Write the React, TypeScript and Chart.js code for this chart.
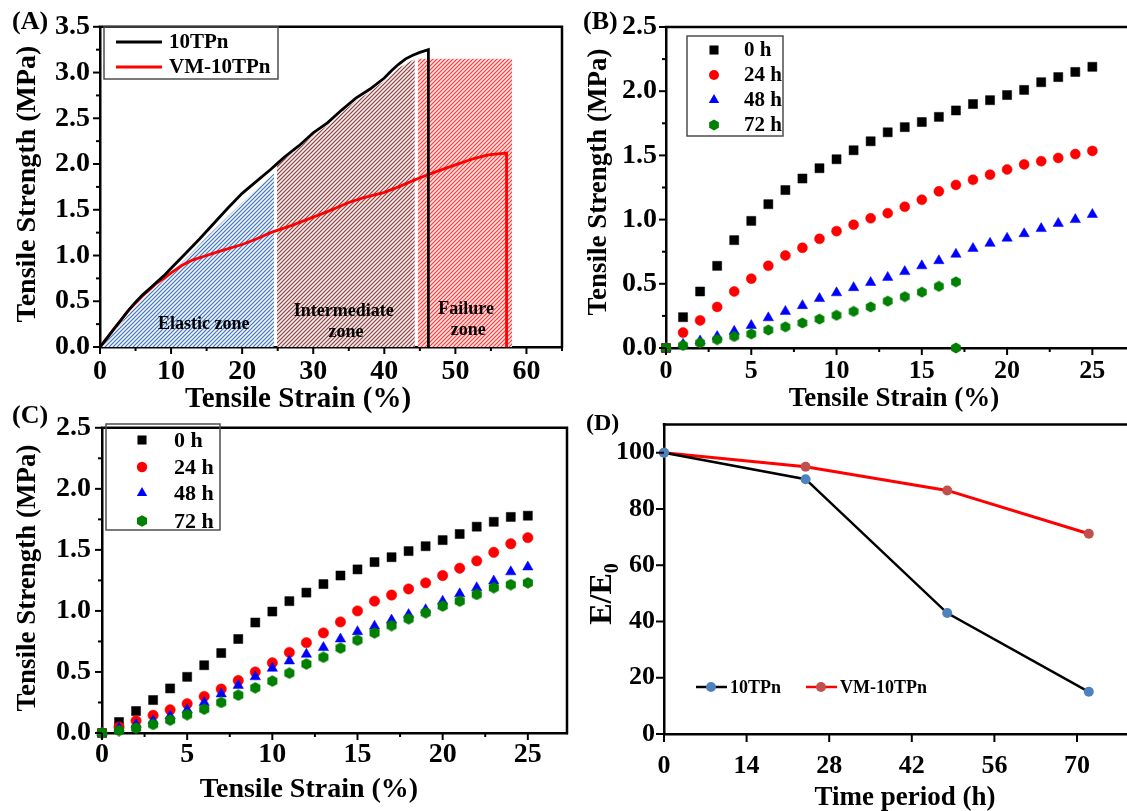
import React, { useEffect, useRef } from 'react';
import { Chart, registerables } from 'chart.js';

Chart.register(...registerables);

const SERIF = '"Liberation Serif", "Times New Roman", Times, serif';
const bold = (px: number) => `bold ${px}px ${SERIF}`;

// ---------------- Panel A : stress-strain curves ----------------
const strainA_10TPn = [0, 1, 2, 3, 4, 5, 6, 7, 8, 9, 10, 12, 14, 16, 18, 20, 22, 24, 25, 26, 28, 30, 32, 34, 36, 38, 40, 41, 42, 43, 44, 45, 46.2, 46.2];
const stressA_10TPn = [0, 0.1, 0.2, 0.3, 0.4, 0.49, 0.57, 0.64, 0.71, 0.78, 0.86, 1.02, 1.18, 1.35, 1.52, 1.68, 1.81, 1.94, 2.01, 2.08, 2.2, 2.34, 2.45, 2.59, 2.72, 2.82, 2.94, 3.02, 3.09, 3.15, 3.19, 3.22, 3.25, 0];
const strainA_VM = [0, 1, 2, 3, 4, 5, 6, 7, 8, 9, 10, 11.5, 13, 15, 17, 20, 22, 24, 27, 30, 32, 35, 37, 40, 42, 45, 47.4, 50, 52.6, 54.6, 57.2, 57.2];
const stressA_VM = [0, 0.1, 0.2, 0.3, 0.4, 0.48, 0.56, 0.63, 0.7, 0.75, 0.81, 0.89, 0.95, 1.0, 1.05, 1.12, 1.18, 1.25, 1.33, 1.42, 1.48, 1.58, 1.63, 1.69, 1.75, 1.85, 1.92, 1.99, 2.06, 2.1, 2.12, 0];
const elasticZoneX = [0, 2, 5, 10, 15, 20, 24.5];
const elasticZoneY = [0, 0.17, 0.45, 0.8, 1.2, 1.58, 1.9];
const intermediateZoneX = [24.9, 26, 28, 30, 32, 34, 36, 38, 40, 42, 44.3];
const intermediateZoneY = [1.99, 2.06, 2.18, 2.31, 2.42, 2.56, 2.69, 2.79, 2.91, 3.05, 3.15];
const failureZoneX = [44.7, 58];
const failureZoneY = [3.15, 3.15];
const zoneLabels = [
  { text: 'Elastic zone', x: 14.6, y: 0.195 },
  { text: 'Intermediate', x: 34.3, y: 0.336 },
  { text: 'zone', x: 34.6, y: 0.108 },
  { text: 'Failure', x: 51.5, y: 0.357 },
  { text: 'zone', x: 51.8, y: 0.13 },
];

// ---------------- Panel B ----------------
const strainB = [0, 1, 2, 3, 4, 5, 6, 7, 8, 9, 10, 11, 12, 13, 14, 15, 16, 17, 18, 19, 20, 21, 22, 23, 24, 25];
const b0h = [0, 0.24, 0.44, 0.64, 0.84, 0.99, 1.12, 1.23, 1.32, 1.4, 1.47, 1.54, 1.61, 1.68, 1.72, 1.76, 1.8, 1.85, 1.9, 1.93, 1.97, 2.01, 2.07, 2.11, 2.15, 2.19];
const b24h = [0, 0.12, 0.215, 0.32, 0.44, 0.54, 0.64, 0.72, 0.78, 0.85, 0.91, 0.96, 1.01, 1.05, 1.1, 1.155, 1.22, 1.27, 1.31, 1.35, 1.39, 1.43, 1.455, 1.48, 1.51, 1.535];
const b48h = [0, 0.03, 0.055, 0.09, 0.13, 0.175, 0.235, 0.285, 0.33, 0.385, 0.43, 0.47, 0.51, 0.55, 0.595, 0.64, 0.68, 0.73, 0.775, 0.815, 0.855, 0.89, 0.93, 0.97, 1.0, 1.04];
const strainB72 = [0, 1, 2, 3, 4, 5, 6, 7, 8, 9, 10, 11, 12, 13, 14, 15, 16, 17, 17];
const b72h = [0, 0.02, 0.04, 0.065, 0.09, 0.11, 0.14, 0.165, 0.195, 0.225, 0.255, 0.285, 0.32, 0.365, 0.4, 0.435, 0.48, 0.515, 0];

// ---------------- Panel C ----------------
const strainC = [0, 1, 2, 3, 4, 5, 6, 7, 8, 9, 10, 11, 12, 13, 14, 15, 16, 17, 18, 19, 20, 21, 22, 23, 24, 25];
const c0h = [0, 0.09, 0.18, 0.27, 0.365, 0.46, 0.555, 0.655, 0.77, 0.905, 0.995, 1.08, 1.15, 1.22, 1.29, 1.34, 1.4, 1.44, 1.49, 1.53, 1.58, 1.63, 1.69, 1.73, 1.77, 1.78];
const c24h = [0, 0.05, 0.1, 0.145, 0.19, 0.24, 0.3, 0.36, 0.43, 0.5, 0.575, 0.66, 0.74, 0.82, 0.91, 1.0, 1.08, 1.13, 1.18, 1.23, 1.29, 1.35, 1.41, 1.48, 1.55, 1.6];
const c48h = [0, 0.04, 0.07, 0.1, 0.14, 0.19, 0.25, 0.32, 0.39, 0.46, 0.53, 0.59, 0.645, 0.7, 0.77, 0.83, 0.875, 0.925, 0.97, 1.01, 1.08, 1.14, 1.19, 1.245, 1.32, 1.36];
const c72h = [0, 0.02, 0.04, 0.07, 0.105, 0.15, 0.195, 0.25, 0.31, 0.37, 0.425, 0.49, 0.565, 0.62, 0.695, 0.76, 0.82, 0.88, 0.935, 0.985, 1.04, 1.08, 1.135, 1.19, 1.215, 1.23];

// ---------------- Panel D ----------------
const timeD = [0, 24, 48, 72];
const modulus10TPn = [100, 90.6, 43, 15];
const modulusVM = [100, 95, 86.6, 71.2];

// ---------------- helpers ----------------
const isMult = (v: number, step: number) => Math.abs(v / step - Math.round(v / step)) < 1e-6;
const xy = (xs: number[], ys: number[]) => xs.map((x, i) => ({ x, y: ys[i] }));

function hatch(line: string, bg: string) {
  const c = document.createElement('canvas');
  c.width = 4; c.height = 4;
  const g = c.getContext('2d')!;
  g.fillStyle = bg; g.fillRect(0, 0, 4, 4);
  g.strokeStyle = line; g.lineWidth = 1.15;
  g.beginPath();
  g.moveTo(0, 4); g.lineTo(4, 0);
  g.moveTo(-1, 1); g.lineTo(1, -1);
  g.moveTo(3, 5); g.lineTo(5, 3);
  g.stroke();
  return g.createPattern(c, 'repeat')!;
}

function hexPath(g: CanvasRenderingContext2D, cx: number, cy: number, r: number) {
  g.beginPath();
  for (let i = 0; i < 6; i++) {
    const a = -Math.PI / 2 + (i * Math.PI) / 3;
    const px = cx + r * Math.cos(a), py = cy + r * Math.sin(a);
    if (i === 0) g.moveTo(px, py); else g.lineTo(px, py);
  }
  g.closePath();
}

function hexagon(color: string, r: number) {
  const c = document.createElement('canvas');
  c.width = Math.ceil(2 * r); c.height = Math.ceil(2 * r);
  const g = c.getContext('2d')!;
  g.fillStyle = color;
  hexPath(g, c.width / 2, c.height / 2, r);
  g.fill();
  return c;
}

function drawMarker(ctx: CanvasRenderingContext2D, style: string, x: number, y: number, r: number, color: string) {
  ctx.fillStyle = color;
  if (style === 'rect') {
    const s = r * Math.SQRT1_2;
    ctx.fillRect(x - s, y - s, 2 * s, 2 * s);
  } else if (style === 'circle') {
    ctx.beginPath(); ctx.arc(x, y, r, 0, Math.PI * 2); ctx.fill();
  } else if (style === 'triangle') {
    ctx.beginPath();
    for (let i = 0; i < 3; i++) {
      const a = (i * 2 * Math.PI) / 3;
      const px = x + Math.sin(a) * r, py = y - Math.cos(a) * r;
      if (i === 0) ctx.moveTo(px, py); else ctx.lineTo(px, py);
    }
    ctx.closePath(); ctx.fill();
  } else if (style === 'hex') {
    hexPath(ctx, x, y, r); ctx.fill();
  }
}

type TextItem = { text: string; x: number; y: number; size: number; align?: CanvasTextAlign; rot?: boolean; sub?: string; subSize?: number };
type LegendItem = { label: string; y: number; textX: number; line?: [number, number, string, number]; marker?: { style: string; x: number; color: string; r: number } };
type Legend = { box?: [number, number, number, number]; size: number; items: LegendItem[] };
type TickSpec = { major: number; majorLen: number; minorLen: number };

function makeDecor(cfg: { ox: number; oy: number; xt: TickSpec; yt: TickSpec; texts: TextItem[]; legend: Legend; dataTexts?: { text: string; x: number; y: number }[]; dataSize?: number }) {
  return {
    id: 'decor',
    afterDraw(chart: any) {
      const ctx: CanvasRenderingContext2D = chart.ctx;
      const a = chart.chartArea;
      const xs = chart.scales.x, ys = chart.scales.y;
      ctx.save();
      ctx.strokeStyle = '#000';
      ctx.lineWidth = 2.5;
      ctx.beginPath();
      ctx.moveTo(a.left - 1.25, a.top);
      ctx.lineTo(a.right, a.top);
      ctx.lineTo(a.right, a.bottom + 1.25);
      ctx.stroke();
      ctx.lineWidth = 2;
      for (const t of xs.ticks) {
        const px = xs.getPixelForValue(t.value);
        const len = isMult(t.value, cfg.xt.major) ? cfg.xt.majorLen : cfg.xt.minorLen;
        ctx.beginPath(); ctx.moveTo(px, a.bottom); ctx.lineTo(px, a.bottom + len); ctx.stroke();
      }
      for (const t of ys.ticks) {
        const py = ys.getPixelForValue(t.value);
        const len = isMult(t.value, cfg.yt.major) ? cfg.yt.majorLen : cfg.yt.minorLen;
        ctx.beginPath(); ctx.moveTo(a.left, py); ctx.lineTo(a.left - len, py); ctx.stroke();
      }
      ctx.fillStyle = '#000';
      if (cfg.dataTexts) {
        ctx.font = bold(cfg.dataSize || 18);
        ctx.textAlign = 'center';
        ctx.textBaseline = 'alphabetic';
        for (const d of cfg.dataTexts) {
          ctx.fillText(d.text, xs.getPixelForValue(d.x), ys.getPixelForValue(d.y));
        }
      }
      ctx.translate(-cfg.ox, -cfg.oy);
      for (const t of cfg.texts) {
        ctx.save();
        ctx.translate(t.x, t.y);
        if (t.rot) ctx.rotate(-Math.PI / 2);
        ctx.font = bold(t.size);
        ctx.textBaseline = 'alphabetic';
        ctx.fillStyle = '#000';
        if (t.sub) {
          const w1 = ctx.measureText(t.text).width;
          ctx.font = bold(t.subSize || 18);
          const w2 = ctx.measureText(t.sub).width;
          const start = -(w1 + w2) / 2;
          ctx.textAlign = 'left';
          ctx.font = bold(t.size);
          ctx.fillText(t.text, start, 0);
          ctx.font = bold(t.subSize || 18);
          ctx.fillText(t.sub, start + w1, t.size * 0.22);
        } else {
          ctx.textAlign = t.align || 'center';
          ctx.fillText(t.text, 0, 0);
        }
        ctx.restore();
      }
      const lg = cfg.legend;
      if (lg.box) {
        ctx.strokeStyle = '#4d4d4d';
        ctx.lineWidth = 1.5;
        ctx.strokeRect(lg.box[0], lg.box[1], lg.box[2], lg.box[3]);
      }
      for (const it of lg.items) {
        if (it.line) {
          ctx.strokeStyle = it.line[2];
          ctx.lineWidth = it.line[3];
          ctx.beginPath(); ctx.moveTo(it.line[0], it.y); ctx.lineTo(it.line[1], it.y); ctx.stroke();
        }
        if (it.marker) drawMarker(ctx, it.marker.style, it.marker.x, it.y, it.marker.r, it.marker.color);
        ctx.fillStyle = '#000';
        ctx.font = bold(lg.size);
        ctx.textAlign = 'left';
        ctx.textBaseline = 'middle';
        ctx.fillText(it.label, it.textX, it.y + 1);
      }
      ctx.restore();
    },
  };
}

function axis(p: { min: number; max: number; step: number; major: number; font: number; pad: number; size: number; horiz: boolean; decimals: number }) {
  return {
    type: 'linear',
    min: p.min,
    max: p.max,
    grid: { display: false, drawTicks: false },
    border: { display: true, color: '#000', width: 2.5 },
    ticks: {
      stepSize: p.step,
      autoSkip: false,
      maxRotation: 0,
      minRotation: 0,
      includeBounds: false,
      color: '#000',
      padding: p.pad,
      font: { family: SERIF, size: p.font, weight: 'bold' },
      callback: (v: any) => (isMult(Number(v), p.major) ? Number(v).toFixed(p.decimals) : ''),
    },
    afterFit: (s: any) => {
      if (p.horiz) s.height = p.size; else s.width = p.size;
    },
  };
}

function pointSet(label: string, xs: number[], ys: number[], style: any, r: number, color: string, order: number) {
  return {
    label,
    data: xy(xs, ys),
    showLine: false,
    pointStyle: style,
    pointRadius: r,
    pointHoverRadius: r,
    pointBackgroundColor: color,
    pointBorderColor: color,
    pointBorderWidth: style === 'rect' || style === 'circle' || style === 'triangle' ? 0.5 : 0,
    clip: false,
    order,
  };
}

function baseOptions(padding: any, x: any, y: any) {
  return {
    responsive: false,
    animation: false,
    events: [],
    layout: { padding },
    plugins: { legend: { display: false }, tooltip: { enabled: false } },
    elements: { line: { tension: 0 } },
    scales: { x, y },
  };
}

const PANELS = {
  A: { left: 0, top: 0, width: 570, height: 415 },
  B: { left: 570, top: 0, width: 580, height: 415 },
  C: { left: 0, top: 400, width: 580, height: 411 },
  D: { left: 570, top: 400, width: 580, height: 411 },
};

function buildA() {
  const P = PANELS.A;
  return {
    type: 'line',
    data: {
      datasets: [
        { label: '10TPn', data: xy(strainA_10TPn, stressA_10TPn), borderColor: '#000000', borderWidth: 2.8, pointRadius: 0, fill: false },
        { label: 'VM-10TPn', data: xy(strainA_VM, stressA_VM), borderColor: '#ff0000', borderWidth: 2.8, pointRadius: 0, fill: false },
        { label: 'elastic', data: xy(elasticZoneX, elasticZoneY), borderColor: 'rgba(0,0,0,0)', borderWidth: 0, pointRadius: 0, fill: 'origin', backgroundColor: hatch('#3f72bb', '#f2f6fc') },
        { label: 'intermediate', data: xy(intermediateZoneX, intermediateZoneY), borderColor: 'rgba(0,0,0,0)', borderWidth: 0, pointRadius: 0, fill: 'origin', backgroundColor: hatch('#8e3c3c', '#f7eeee') },
        { label: 'failure', data: xy(failureZoneX, failureZoneY), borderColor: 'rgba(0,0,0,0)', borderWidth: 0, pointRadius: 0, fill: 'origin', backgroundColor: hatch('#ff3a3a', '#ffe3e3') },
      ],
    },
    options: baseOptions(
      { left: 0, top: 24, right: 6, bottom: 0 },
      axis({ min: 0, max: 65, step: 5, major: 10, font: 28, pad: 8, size: 415 - 347, horiz: true, decimals: 0 }),
      axis({ min: 0, max: 3.5, step: 0.25, major: 0.5, font: 28, pad: 10, size: 100, horiz: false, decimals: 1 })
    ),
    plugins: [
      makeDecor({
        ox: P.left, oy: P.top,
        xt: { major: 10, majorLen: 7, minorLen: 4 },
        yt: { major: 0.5, majorLen: 7, minorLen: 4 },
        dataTexts: zoneLabels, dataSize: 18,
        texts: [
          { text: '(A)', x: 12, y: 29, size: 26, align: 'left' },
          { text: 'Tensile Strength (MPa)', x: 35, y: 184, size: 28, rot: true },
          { text: 'Tensile Strain (%)', x: 298, y: 407, size: 29 },
        ],
        legend: {
          box: [104, 27, 174, 52], size: 21,
          items: [
            { label: '10TPn', y: 42, textX: 169, line: [116, 162, '#000000', 3] },
            { label: 'VM-10TPn', y: 67, textX: 169, line: [116, 162, '#ff0000', 3] },
          ],
        },
      }),
    ],
  };
}

function buildB() {
  const P = PANELS.B;
  const hex = hexagon('#008000', 5.6);
  return {
    type: 'line',
    data: {
      datasets: [
        pointSet('0 h', strainB, b0h, 'rect', 6.4, '#000000', 4),
        pointSet('24 h', strainB, b24h, 'circle', 5, '#ff0000', 3),
        pointSet('48 h', strainB, b48h, 'triangle', 6, '#0000ff', 2),
        pointSet('72 h', strainB72, b72h, hex, 5.6, '#008000', 1),
      ],
    },
    options: baseOptions(
      { left: 0, top: 27, right: 15, bottom: 0 },
      axis({ min: 0, max: 27.5, step: 2.5, major: 5, font: 26, pad: 8, size: 415 - 348, horiz: true, decimals: 0 }),
      axis({ min: 0, max: 2.5, step: 0.25, major: 0.5, font: 28, pad: 9, size: 96, horiz: false, decimals: 1 })
    ),
    plugins: [
      makeDecor({
        ox: P.left, oy: P.top,
        xt: { major: 5, majorLen: 7, minorLen: 4 },
        yt: { major: 0.5, majorLen: 7, minorLen: 4 },
        texts: [
          { text: '(B)', x: 583, y: 29, size: 26, align: 'left' },
          { text: 'Tensile Strength (MPa)', x: 606, y: 182, size: 27, rot: true },
          { text: 'Tensile Strain (%)', x: 894, y: 406, size: 27 },
        ],
        legend: {
          box: [687, 36, 96, 100], size: 21,
          items: [
            { label: '0 h', y: 50, textX: 744, marker: { style: 'rect', x: 714, color: '#000000', r: 6.4 } },
            { label: '24 h', y: 75, textX: 744, marker: { style: 'circle', x: 714, color: '#ff0000', r: 5 } },
            { label: '48 h', y: 100, textX: 744, marker: { style: 'triangle', x: 714, color: '#0000ff', r: 6 } },
            { label: '72 h', y: 125, textX: 744, marker: { style: 'hex', x: 714, color: '#008000', r: 5.6 } },
          ],
        },
      }),
    ],
  };
}

function buildC() {
  const P = PANELS.C;
  const hex = hexagon('#008000', 5.8);
  return {
    type: 'line',
    data: {
      datasets: [
        pointSet('0 h', strainC, c0h, 'rect', 6.4, '#000000', 4),
        pointSet('24 h', strainC, c24h, 'circle', 5.2, '#ff0000', 3),
        pointSet('48 h', strainC, c48h, 'triangle', 6, '#0000ff', 2),
        pointSet('72 h', strainC, c72h, hex, 5.8, '#008000', 1),
      ],
    },
    options: baseOptions(
      { left: 0, top: 18, right: 13, bottom: 0 },
      axis({ min: 0, max: 27.3, step: 2.5, major: 5, font: 28, pad: 5, size: 811 - 733, horiz: true, decimals: 0 }),
      axis({ min: 0, max: 2.5, step: 0.25, major: 0.5, font: 28, pad: 11, size: 102, horiz: false, decimals: 1 })
    ),
    plugins: [
      makeDecor({
        ox: P.left, oy: P.top,
        xt: { major: 5, majorLen: 7, minorLen: 4 },
        yt: { major: 0.5, majorLen: 7, minorLen: 4 },
        texts: [
          { text: '(C)', x: 12, y: 423, size: 26, align: 'left' },
          { text: 'Tensile Strength (MPa)', x: 35, y: 578, size: 27, rot: true },
          { text: 'Tensile Strain (%)', x: 309, y: 797, size: 28 },
        ],
        legend: {
          box: [106, 424, 114, 106], size: 22,
          items: [
            { label: '0 h', y: 440, textX: 174, marker: { style: 'rect', x: 142, color: '#000000', r: 6.4 } },
            { label: '24 h', y: 467, textX: 174, marker: { style: 'circle', x: 142, color: '#ff0000', r: 5.2 } },
            { label: '48 h', y: 493, textX: 174, marker: { style: 'triangle', x: 142, color: '#0000ff', r: 6 } },
            { label: '72 h', y: 521, textX: 174, marker: { style: 'hex', x: 142, color: '#008000', r: 5.8 } },
          ],
        },
      }),
    ],
  };
}

function buildD() {
  const P = PANELS.D;
  return {
    type: 'line',
    data: {
      datasets: [
        { label: '10TPn', data: xy(timeD, modulus10TPn), borderColor: '#000000', borderWidth: 2.5, pointRadius: 5, pointBackgroundColor: '#4f81bd', pointBorderColor: '#4f81bd', pointBorderWidth: 0, clip: false },
        { label: 'VM-10TPn', data: xy(timeD, modulusVM), borderColor: '#ff0000', borderWidth: 3, pointRadius: 5, pointBackgroundColor: '#c0504d', pointBorderColor: '#c0504d', pointBorderWidth: 0, clip: false },
      ],
    },
    options: baseOptions(
      { left: 0, top: 18, right: 14, bottom: 0 },
      axis({ min: 0, max: 80, step: 14, major: 14, font: 26, pad: 17, size: 811 - 734, horiz: true, decimals: 0 }),
      axis({ min: 0, max: 110, step: 20, major: 20, font: 26, pad: 9, size: 94, horiz: false, decimals: 0 })
    ),
    plugins: [
      makeDecor({
        ox: P.left, oy: P.top,
        xt: { major: 14, majorLen: 8, minorLen: 8 },
        yt: { major: 20, majorLen: 8, minorLen: 8 },
        texts: [
          { text: '(D)', x: 586, y: 430, size: 24, align: 'left' },
          { text: 'E/E', sub: '0', subSize: 20, x: 611, y: 594, size: 32, rot: true },
          { text: 'Time period (h)', x: 905, y: 805, size: 27 },
        ],
        legend: {
          size: 18,
          items: [
            { label: '10TPn', y: 687, textX: 730, line: [696, 727, '#000000', 2.5], marker: { style: 'circle', x: 711, color: '#4f81bd', r: 5 } },
            { label: 'VM-10TPn', y: 687, textX: 840, line: [806, 837, '#ff0000', 2.5], marker: { style: 'circle', x: 821, color: '#c0504d', r: 5 } },
          ],
        },
      }),
    ],
  };
}

function Panel({ pos, build }: { pos: { left: number; top: number; width: number; height: number }; build: () => any }) {
  const ref = useRef<HTMLCanvasElement>(null);
  useEffect(() => {
    if (!ref.current) return;
    const chart = new Chart(ref.current, build());
    return () => chart.destroy();
  }, []);
  return (
    <canvas
      ref={ref}
      width={pos.width}
      height={pos.height}
      style={{ position: 'absolute', left: pos.left, top: pos.top, width: pos.width, height: pos.height }}
    />
  );
}

export default function App() {
  return (
    <div style={{ position: 'fixed', left: 0, top: 0, width: 1127, height: 811, overflow: 'hidden', background: '#ffffff' }}>
      <Panel pos={PANELS.A} build={buildA} />
      <Panel pos={PANELS.B} build={buildB} />
      <Panel pos={PANELS.C} build={buildC} />
      <Panel pos={PANELS.D} build={buildD} />
    </div>
  );
}
